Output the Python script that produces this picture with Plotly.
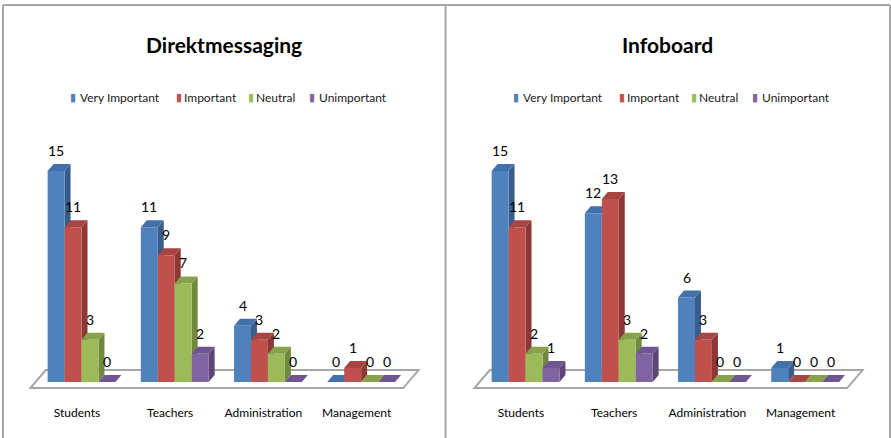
import plotly.graph_objects as go

# ---- data -------------------------------------------------------------
categories = ["Students", "Teachers", "Administration", "Management"]
series_names = ["Very Important", "Important", "Neutral", "Unimportant"]

direkt_very_important = [15, 11, 4, 0]
direkt_important = [11, 9, 3, 1]
direkt_neutral = [3, 7, 2, 0]
direkt_unimportant = [0, 2, 0, 0]

info_very_important = [15, 12, 6, 1]
info_important = [11, 13, 3, 0]
info_neutral = [2, 3, 0, 0]
info_unimportant = [1, 2, 0, 0]

panel_titles = ["Direktmessaging", "Infoboard"]

# ---- styling ----------------------------------------------------------
FONT = "Lato, Liberation Sans Narrow, sans-serif"
FRONT = ["#4f81bd", "#c0504d", "#9bbb59", "#8064a2"]
SIDE = ["#385d8a", "#8c3836", "#71893f", "#5c4776"]
TOP = ["#4270a8", "#a64542", "#86a34b", "#6e5690"]
BORDER = "#a6a6a6"

BAR_W = 0.182          # width of one bar (category units)
FIRST_OFF = -0.315     # left edge of first bar relative to category
DX, DY = 0.064, 0.5    # 3-D depth offset of the bars (x units, y units)
FLOOR_FRONT_Y = -0.43
FLOOR_DX, FLOOR_DY = 0.165, 1.28

panels = [
    dict(title=panel_titles[0],
         values=[direkt_very_important, direkt_important, direkt_neutral, direkt_unimportant],
         xaxis="x", yaxis="y", xref="x", yref="y", xrange=[-0.826, 3.954], x0px=0),
    dict(title=panel_titles[1],
         values=[info_very_important, info_important, info_neutral, info_unimportant],
         xaxis="x2", yaxis="y2", xref="x2", yref="y2", xrange=[-0.810, 3.970], x0px=443),
]

W, H = 891, 438
fig = go.Figure()
shapes = []
annotations = []


def poly(points):
    return "M " + " L ".join(f"{x:.4f},{y:.4f}" for x, y in points) + " Z"


for p in panels:
    xr, yr = p["xref"], p["yref"]
    n = len(categories)
    # floor of the 3-D plot area
    fl, fr = -0.5, n - 0.5
    shapes.append(dict(
        type="path", xref=xr, yref=yr, layer="below",
        path=poly([(fl, FLOOR_FRONT_Y), (fr, FLOOR_FRONT_Y),
                   (fr + FLOOR_DX, FLOOR_FRONT_Y + FLOOR_DY),
                   (fl + FLOOR_DX, FLOOR_FRONT_Y + FLOOR_DY)]),
        fillcolor="white", line=dict(color=BORDER, width=2)))

    # side and top faces, painted left to right
    for ci in range(n):
        for si, vals in enumerate(p["values"]):
            v = vals[ci]
            x0 = ci + FIRST_OFF + si * BAR_W
            x1 = x0 + BAR_W
            if v > 0:
                shapes.append(dict(
                    type="path", xref=xr, yref=yr, layer="below",
                    path=poly([(x1, 0), (x1 + DX, DY), (x1 + DX, v + DY), (x1, v)]),
                    fillcolor=SIDE[si], line=dict(width=0)))
            shapes.append(dict(
                type="path", xref=xr, yref=yr, layer="below",
                path=poly([(x0, v), (x1, v), (x1 + DX, v + DY), (x0 + DX, v + DY)]),
                fillcolor=TOP[si], line=dict(width=0)))
            annotations.append(dict(
                x=(x0 + x1) / 2, y=v + DY, xref=xr, yref=yr,
                text=str(v), showarrow=False, yanchor="bottom", yshift=3,
                font=dict(family=FONT, size=14, color="#000000")))

    # front faces as bars
    for si, vals in enumerate(p["values"]):
        fig.add_trace(go.Bar(
            x=list(range(n)), y=vals, name=series_names[si],
            width=BAR_W, offset=FIRST_OFF + si * BAR_W,
            marker=dict(color=FRONT[si], line=dict(width=0)),
            xaxis=p["xaxis"], yaxis=p["yaxis"], showlegend=False,
            hoverinfo="skip"))

    # panel title
    cx = p["x0px"] + 224
    annotations.append(dict(
        x=cx / W, y=1 - 45 / H, xref="paper", yref="paper",
        text=f"<b>{p['title']}</b>", showarrow=False,
        xanchor="center", yanchor="middle",
        font=dict(family=FONT, size=21, color="#000000")))

    # legend row
    swatch_px = [73, 179, 251, 312]
    text_px = [80, 184, 256, 319]
    for si, name in enumerate(series_names):
        annotations.append(dict(
            x=(p["x0px"] + swatch_px[si]) / W, y=1 - 98 / H,
            xref="paper", yref="paper", text="▮", showarrow=False,
            xanchor="center", yanchor="middle",
            font=dict(family="DejaVu Sans", size=11, color=FRONT[si])))
        annotations.append(dict(
            x=(p["x0px"] + text_px[si]) / W, y=1 - 98 / H,
            xref="paper", yref="paper", text=name, showarrow=False,
            xanchor="left", yanchor="middle", xshift=-2,
            font=dict(family=FONT, size=12, color="#1a1a1a")))

# panel frames
frame = dict(type="line", xref="paper", yref="paper",
             line=dict(color=BORDER, width=2))
shapes += [
    dict(frame, x0=3 / W, x1=890 / W, y0=1 - 5 / H, y1=1 - 5 / H),
    dict(frame, x0=3 / W, x1=3 / W, y0=0, y1=1 - 5 / H),
    dict(frame, x0=445.5 / W, x1=445.5 / W, y0=0, y1=1 - 5 / H),
    dict(frame, x0=890 / W, x1=890 / W, y0=0, y1=1 - 5 / H),
]

yrange = [-1.137, 27.15]
ydomain = [40 / H, 1]
axis_x = dict(showgrid=False, zeroline=False, showline=False, ticks="",
              tickvals=list(range(len(categories))), ticktext=categories,
              tickfont=dict(family=FONT, size=12, color="#000000"),
              ticklabelstandoff=6, fixedrange=True)
axis_y = dict(visible=False, range=yrange, domain=ydomain, fixedrange=True)

fig.update_layout(
    width=W, height=H,
    margin=dict(l=0, r=0, t=0, b=0),
    paper_bgcolor="white", plot_bgcolor="rgba(0,0,0,0)",
    barmode="overlay",
    xaxis=dict(axis_x, domain=[0, 0.5], range=panels[0]["xrange"]),
    xaxis2=dict(axis_x, domain=[0.5, 1], range=panels[1]["xrange"], anchor="y2"),
    yaxis=dict(axis_y, anchor="x"),
    yaxis2=dict(axis_y, anchor="x2"),
    shapes=shapes, annotations=annotations,
    showlegend=False,
)

fig.write_html("out.html")
